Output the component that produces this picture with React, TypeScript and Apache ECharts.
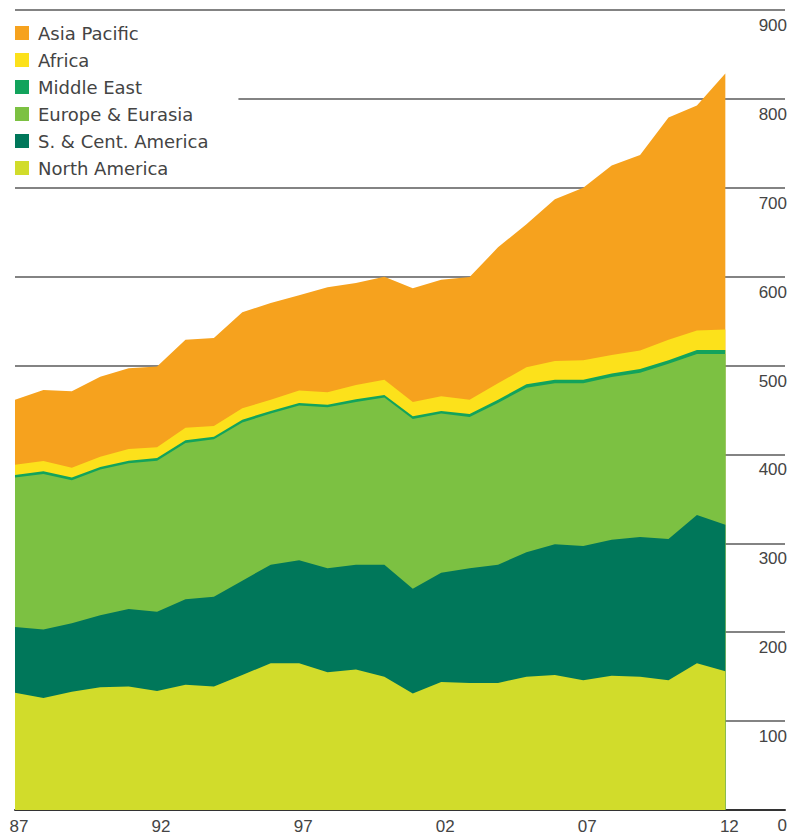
import React, { useEffect, useRef } from "react";
import * as echarts from "echarts";

const years = [1987, 1988, 1989, 1990, 1991, 1992, 1993, 1994, 1995, 1996, 1997, 1998, 1999, 2000, 2001, 2002, 2003, 2004, 2005, 2006, 2007, 2008, 2009, 2010, 2011, 2012];

const northAmerica = [132, 126, 133, 138, 139, 134, 141, 139, 152, 165, 165, 155, 158, 150, 131, 144, 143, 143, 150, 152, 146, 151, 150, 146, 165, 156];
const southCentAmerica = [74, 77, 77, 81, 87, 89, 96, 101, 106, 111, 116, 117, 118, 126, 118, 123, 129, 133, 140, 147, 151, 153, 157, 159, 167, 165];
const europeEurasia = [168, 175, 161, 164, 164, 170, 176, 177, 178, 170, 174, 181, 183, 188, 191, 179, 170, 182, 185, 181, 183, 183, 185, 197, 181, 192];
const middleEast = [3, 3, 3, 3, 3, 3, 3, 3, 3, 3, 3, 3, 3, 3, 3, 3, 3.5, 3.5, 4, 4, 4, 4, 4, 4, 4.5, 4.5];
const africa = [11.5, 11.5, 11, 11.5, 13, 12, 14, 12, 13, 12.5, 14, 14, 16, 17, 16, 16.5, 16, 18.5, 19, 21, 22, 21, 21, 23, 22, 23];
const asiaPacific = [73, 80, 86, 90, 91, 91, 99, 99, 108, 109, 107, 118, 115, 116, 128, 131, 138, 153, 161, 182, 194, 213, 220, 250, 253, 288];

const xTickYears = [1987, 1992, 1997, 2002, 2007, 2012];
const legendOrder = ["Asia Pacific", "Africa", "Middle East", "Europe & Eurasia", "S. & Cent. America", "North America"];

// bottom-to-top stacking order
const seriesDefs = [
  { name: "North America", values: northAmerica, color: "#D1DC2B" },
  { name: "S. & Cent. America", values: southCentAmerica, color: "#00775A" },
  { name: "Europe & Eurasia", values: europeEurasia, color: "#7CC142" },
  { name: "Middle East", values: middleEast, color: "#12A35C" },
  { name: "Africa", values: africa, color: "#FCE11B" },
  { name: "Asia Pacific", values: asiaPacific, color: "#F6A21E" },
];

const FONT = "'Liberation Sans', Arial, sans-serif";
const LEGEND_FONT = "'DejaVu Sans', 'Liberation Sans', sans-serif";
const TEXT = "#444444";

export default function App() {
  const ref = useRef<HTMLDivElement>(null);

  useEffect(() => {
    if (!ref.current) return;
    const chart = echarts.init(ref.current, null, { renderer: "svg" });

    // cumulative tops for each layer (stacked area), drawn topmost-first so lower layers paint over
    const running = years.map(() => 0);
    const stacked = seriesDefs.map((s) => {
      const tops = s.values.map((v, i) => (running[i] += v));
      return { ...s, tops: tops.slice() };
    });
    const drawOrder = stacked.slice().reverse();

    chart.setOption({
      animation: false,
      backgroundColor: "#ffffff",
      textStyle: { fontFamily: FONT },
      grid: { left: 15, right: 6, top: 10, bottom: 27, containLabel: false },
      legend: {
        data: legendOrder,
        orient: "vertical",
        left: 0,
        top: 14,
        padding: [10, 30, 3, 15],
        backgroundColor: "#ffffff",
        itemWidth: 14,
        itemHeight: 14,
        itemGap: 9,
        icon: "rect",
        selectedMode: false,
        textStyle: { fontSize: 18, color: TEXT, fontFamily: LEGEND_FONT, lineHeight: 17, padding: [0, 0, 0, 4] },
      },
      xAxis: {
        type: "value",
        min: 1987,
        max: 2014.1,
        axisLine: { show: true, lineStyle: { color: "#333333", width: 2 } },
        axisTick: { show: false },
        splitLine: { show: false },
        axisLabel: {
          customValues: xTickYears,
          formatter: (v: number) => String(v % 100).padStart(2, "0"),
          fontSize: 17,
          color: TEXT,
          fontFamily: FONT,
          margin: 8,
          align: "center",
          padding: [0, 0, 0, 8],
        },
      },
      yAxis: {
        type: "value",
        position: "right",
        min: 0,
        max: 900,
        interval: 100,
        axisLine: { show: false },
        axisTick: { show: false },
        splitLine: { show: true, lineStyle: { color: "#5a5a5a", width: 1.5 } },
        axisLabel: {
          inside: true,
          margin: -2,
          verticalAlign: "top",
          padding: [7, 0, 0, 0],
          fontSize: 17,
          color: TEXT,
          fontFamily: FONT,
        },
      },
      series: drawOrder.map((s) => ({
        name: s.name,
        type: "line",
        symbol: "none",
        lineStyle: { width: 0 },
        itemStyle: { color: s.color },
        areaStyle: { color: s.color, opacity: 1 },
        data: years.map((y, i) => [y, s.tops[i]]),
      })),
    });
    return () => chart.dispose();
  }, []);

  return <div ref={ref} style={{ position: "absolute", left: 0, top: 0, width: 791, height: 837 }} />;
}
